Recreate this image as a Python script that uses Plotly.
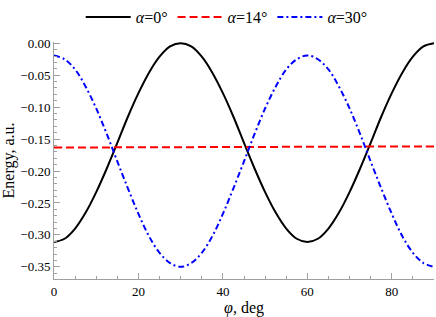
import plotly.graph_objects as go

phi = [i * 2.5 for i in range(37)]
e_alpha0 = [-0.311, -0.306, -0.290, -0.265, -0.233, -0.196, -0.156, -0.115, -0.078, -0.046, -0.021, -0.005,
            0.000, -0.005, -0.021, -0.046, -0.078, -0.115, -0.156, -0.196, -0.233, -0.265, -0.290, -0.306,
            -0.311, -0.306, -0.290, -0.265, -0.233, -0.196, -0.156, -0.115, -0.078, -0.046, -0.021, -0.005,
            0.000]
e_alpha14 = [-0.1632, -0.1632, -0.1631, -0.1631, -0.1630, -0.1630, -0.1629, -0.1629, -0.1628, -0.1628,
             -0.1627, -0.1627, -0.1626, -0.1626, -0.1625, -0.1625, -0.1624, -0.1624, -0.1623, -0.1623,
             -0.1622, -0.1622, -0.1621, -0.1621, -0.1620, -0.1620, -0.1619, -0.1619, -0.1618, -0.1618,
             -0.1617, -0.1617, -0.1616, -0.1616, -0.1615, -0.1615, -0.1614]
e_alpha30 = [-0.019, -0.025, -0.041, -0.068, -0.102, -0.142, -0.185, -0.227, -0.267, -0.302, -0.328, -0.344,
             -0.350, -0.344, -0.328, -0.302, -0.267, -0.227, -0.185, -0.142, -0.102, -0.068, -0.041, -0.025,
             -0.019, -0.025, -0.041, -0.068, -0.102, -0.142, -0.185, -0.227, -0.267, -0.302, -0.328, -0.344,
             -0.350]
names = ["<i>α</i>=0°", "<i>α</i>=14°", "<i>α</i>=30°"]
y_ticks = [0.00, -0.05, -0.10, -0.15, -0.20, -0.25, -0.30, -0.35]
y_ticklabels = ["0.00", "−0.05", "−0.10", "−0.15", "−0.20", "−0.25", "−0.30", "−0.35"]
x_ticks = [0, 20, 40, 60, 80]

font = "Liberation Serif"
fig = go.Figure()
styles = [("black", "solid"), ("#ff0000", "8px,4px"), ("#0000ff", "6px,3px,2px,3px")]
for ys, nm, (c, d) in zip([e_alpha0, e_alpha14, e_alpha30], names, styles):
    fig.add_trace(go.Scatter(x=phi, y=ys, mode="lines", name=nm,
                             line=dict(color=c, width=2, dash=d, shape="spline", smoothing=1.0)))

axis_common = dict(showline=True, linecolor="#a0a0a0", linewidth=1, ticks="inside",
                   tickcolor="#a0a0a0", showgrid=False, zeroline=False, mirror=False,
                   tickfont=dict(family=font, size=13, color="black"))
fig.update_xaxes(range=[0, 90], tickvals=x_ticks, ticklen=6,
                 minor=dict(dtick=5, ticks="inside", ticklen=3, tickcolor="#a0a0a0", tick0=0),
                 title=dict(text="<i>φ</i>, deg", font=dict(family=font, size=16, color="black"), standoff=6),
                 **axis_common)
fig.update_yaxes(range=[-0.369, 0.002], tickvals=y_ticks, ticktext=y_ticklabels, ticklen=6,
                 minor=dict(dtick=0.01, ticks="inside", ticklen=3, tickcolor="#a0a0a0", tick0=0),
                 title=dict(text="Energy, a.u.", font=dict(family=font, size=16, color="black"), standoff=4),
                 **axis_common)
fig.update_layout(width=436, height=317, margin=dict(l=54, r=2, t=42, b=38, autoexpand=False),
                  plot_bgcolor="white", paper_bgcolor="white",
                  font=dict(family=font, color="black"),
                  legend=dict(orientation="h", xref="container", yref="container",
                              x=0.52, y=0.946, xanchor="center", yanchor="middle",
                              font=dict(family=font, size=16), itemwidth=45,
                              bgcolor="rgba(0,0,0,0)"))
fig.write_html("out.html", config={"displayModeBar": False},
               post_script="document.body.style.margin='0';")
